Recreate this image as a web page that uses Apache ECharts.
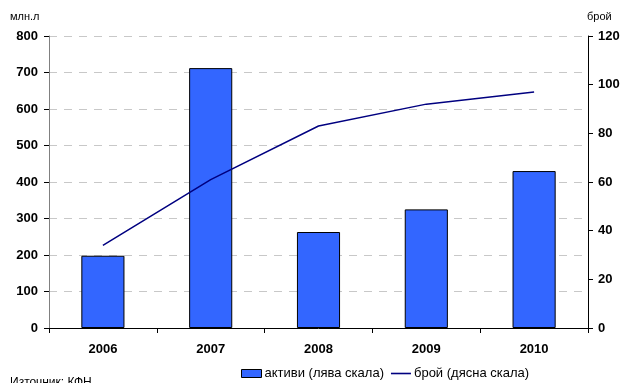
<!DOCTYPE html>
<html><head><meta charset="utf-8">
<script src="https://cdn.jsdelivr.net/npm/echarts@6/dist/echarts.min.js"></script>
<style>html,body{margin:0;padding:0;background:#fff}#c{width:623px;height:383px}</style>
</head><body><div id="c"></div>
<script>
const categories = ['2006','2007','2008','2009','2010'];
const assets = [198, 712, 263, 325, 430];
const count = [34, 61, 83, 92, 97];
const leftTicks = [0,100,200,300,400,500,600,700,800];
const rightTicks = [0,20,40,60,80,100,120];

const chart = echarts.init(document.getElementById('c'), null, {renderer:'canvas'});
const F = 'Liberation Sans, Arial, sans-serif';
chart.setOption({
  animation:false,
  textStyle:{fontFamily:F},
  grid:{left:49,right:35,top:36,bottom:55,containLabel:false},
  graphic:[
    {type:'text',left:10,top:11,style:{text:'млн.л',font:'11px '+F,fill:'#000'}},
    {type:'text',left:587,top:11,style:{text:'брой',font:'11px '+F,fill:'#000'}},
    {type:'text',left:10,top:377,style:{text:'Източник: КФН',font:'12px '+F,fill:'#000'}}
  ],
  legend:{
    top:365,left:236,itemGap:7,itemWidth:20,itemHeight:8,padding:[2,5,2,5],
    textStyle:{fontSize:13,fontFamily:F,color:'#000',padding:[0,0,0,-2]},
    data:[{name:'активи (лява скала)',icon:'rect',itemStyle:{borderColor:'#000',borderWidth:1}},
          {name:'брой (дясна скала)',icon:'path://M0,0 L20,0 L20,1.6 L0,1.6 Z',itemStyle:{color:'#000080',borderWidth:0}}]
  },
  xAxis:{
    type:'category',data:categories,
    axisLine:{lineStyle:{color:'#000',width:1}},
    axisTick:{show:true,inside:false,length:5,lineStyle:{color:'#000'}},
    axisLabel:{fontWeight:'bold',fontSize:13,color:'#000',margin:15,fontFamily:F}
  },
  yAxis:[
    {type:'value',min:0,max:800,interval:100,position:'left',
     axisLine:{show:true,lineStyle:{color:'#808080'}},
     axisTick:{show:true,length:5,lineStyle:{color:'#000'}},
     axisLabel:{fontWeight:'bold',fontSize:13,color:'#000',margin:11,fontFamily:F,
       formatter:v=>leftTicks.includes(v)?String(v):''},
     splitLine:{show:true,lineStyle:{color:'#c8c8c8',type:[8,7],width:1}}},
    {type:'value',min:0,max:120,interval:20,position:'right',
     axisLine:{show:true,lineStyle:{color:'#000'}},
     axisTick:{show:true,length:5,lineStyle:{color:'#000'}},
     axisLabel:{fontWeight:'bold',fontSize:13,color:'#000',margin:10,fontFamily:F,
       formatter:v=>rightTicks.includes(v)?String(v):''},
     splitLine:{show:false}}
  ],
  series:[
    {name:'активи (лява скала)',type:'bar',data:assets,yAxisIndex:0,barWidth:'40%',
     itemStyle:{color:'#3366ff',borderColor:'#000',borderWidth:1}},
    {name:'брой (дясна скала)',type:'line',data:count,yAxisIndex:1,symbol:'none',
     lineStyle:{color:'#000080',width:1.5},itemStyle:{color:'#000080'}}
  ]
});
</script></body></html>
